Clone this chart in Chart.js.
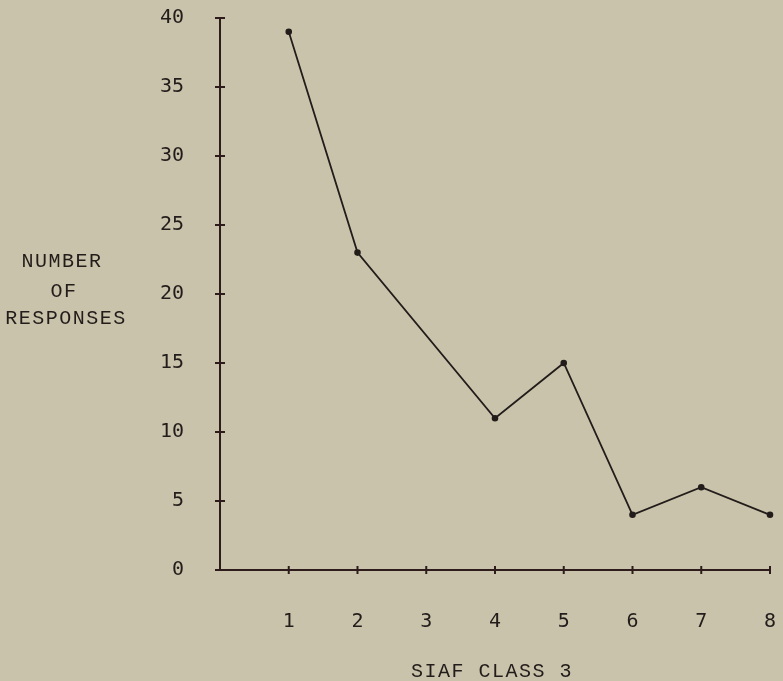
<!DOCTYPE html>
<html>
<head>
<meta charset="utf-8">
<script src="https://cdn.jsdelivr.net/npm/chart.js@4"></script>
<style>
  html, body { margin: 0; padding: 0; background: #c9c3ab; }
  canvas { display: block; }
</style>
</head>
<body>
<canvas id="chart" width="783" height="681"></canvas>
<script>
// SIAF class 3 responses
const classes = [1, 2, 4, 5, 6, 7, 8];
const responses = [39, 23, 11, 15, 4, 6, 4];
const yTitleLines = ['NUMBER', 'OF', 'RESPONSES'];
const xTitle = 'SIAF CLASS 3';

const inkColor = '#221c1a';
const axisColor = '#2e1c1c';
const typeFont = '20px "Liberation Mono", monospace';
const tickFont = { family: '"DejaVu Sans Mono", monospace', size: 20 };

/**
 * Short tick marks crossing both axes, like the typed original
 */
const crossTicks = {
    id: 'crossTicks',
    afterDraw(chart) {
        const { ctx, scales: { x, y } } = chart;
        ctx.save();
        ctx.strokeStyle = axisColor;
        ctx.lineWidth = 2;
        ctx.beginPath();
        y.ticks.forEach(t => {
            const py = y.getPixelForValue(t.value);
            ctx.moveTo(x.left - 5, py);
            ctx.lineTo(x.left + 5, py);
        });
        x.ticks.forEach(t => {
            if (t.value === 0) return;
            const px = x.getPixelForValue(t.value);
            ctx.moveTo(px, y.bottom - 4);
            ctx.lineTo(px, y.bottom + 4);
        });
        ctx.stroke();
        ctx.restore();
    }
};

/**
 * Typed axis titles: three horizontal lines on the left, one line below
 */
const typedTitles = {
    id: 'typedTitles',
    afterDraw(chart) {
        const { ctx, chartArea } = chart;
        ctx.save();
        ctx.fillStyle = inkColor;
        ctx.font = typeFont;
        ctx.letterSpacing = '1.5px';
        ctx.textAlign = 'center';
        ctx.textBaseline = 'middle';
        const rows = [262, 292, 319];
        const cols = [62, 64, 66];
        yTitleLines.forEach((line, i) => ctx.fillText(line, cols[i], rows[i]));
        ctx.fillText(xTitle, (chartArea.left + chartArea.right) / 2 - 3, 672);
        ctx.restore();
    }
};

new Chart(document.getElementById('chart'), {
    type: 'line',
    data: {
        datasets: [{
            data: classes.map((c, i) => ({ x: c, y: responses[i] })),
            borderColor: inkColor,
            borderWidth: 1.8,
            pointBackgroundColor: inkColor,
            pointBorderColor: inkColor,
            pointRadius: 2.4,
            tension: 0,
            clip: false
        }]
    },
    options: {
        responsive: false,
        animation: false,
        layout: { padding: { top: 18, right: 13, left: 0, bottom: 0 } },
        plugins: {
            legend: { display: false },
            tooltip: { enabled: false }
        },
        scales: {
            x: {
                type: 'linear',
                min: 0,
                max: 8,
                afterFit(scale) { scale.height = 111; },
                border: { display: true, color: axisColor, width: 2 },
                grid: { display: false, drawTicks: true, tickLength: 40 },
                ticks: {
                    stepSize: 1,
                    padding: 0,
                    color: inkColor,
                    font: tickFont,
                    callback: v => (v === 0 ? '' : v)
                }
            },
            y: {
                min: 0,
                max: 40,
                afterFit(scale) { scale.width = 220; },
                border: { display: true, color: axisColor, width: 2 },
                grid: { display: false, drawTicks: true, tickLength: 36 },
                ticks: {
                    stepSize: 5,
                    padding: 0,
                    color: inkColor,
                    font: tickFont
                }
            }
        }
    },
    plugins: [crossTicks, typedTitles]
});
</script>
</body>
</html>
